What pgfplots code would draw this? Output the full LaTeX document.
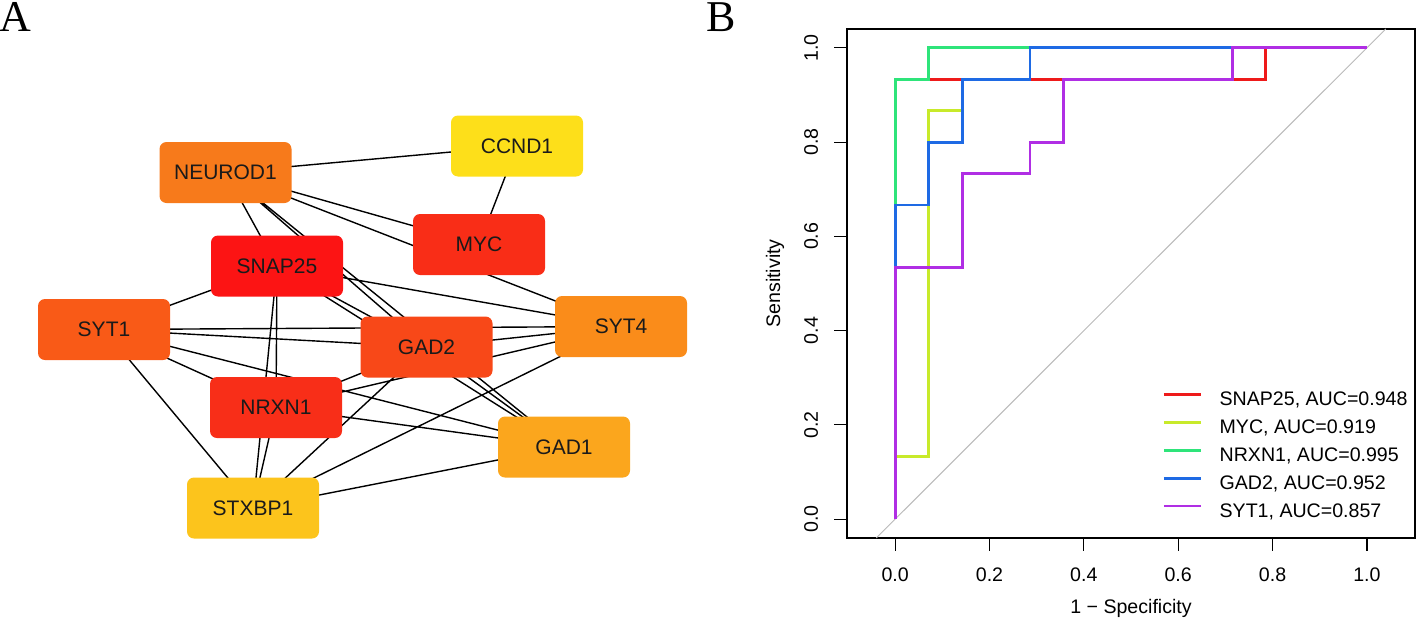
\documentclass[border=0pt]{standalone}
\usepackage{pgfplots}
\pgfplotsset{compat=1.18}
\usepackage{fontspec}
\setmainfont{Liberation Sans}
\newfontfamily\serifA{Liberation Serif}

\definecolor{cNeu}{HTML}{F77A1B}
\definecolor{cCcn}{HTML}{FDDF1A}
\definecolor{cMyc}{HTML}{F92D17}
\definecolor{cSnp}{HTML}{FC1414}
\definecolor{cSy1}{HTML}{F95A17}
\definecolor{cGd2}{HTML}{F84818}
\definecolor{cSy4}{HTML}{FA8C1A}
\definecolor{cNrx}{HTML}{F82E18}
\definecolor{cGd1}{HTML}{FBA61D}
\definecolor{cStx}{HTML}{FCC41C}
\definecolor{txt}{HTML}{1A1A1A}

\definecolor{rRed}{HTML}{EE1A1A}
\definecolor{rYel}{HTML}{C8EA2A}
\definecolor{rGrn}{HTML}{2EE47A}
\definecolor{rBlu}{HTML}{1E6AE4}
\definecolor{rPur}{HTML}{B02EE4}

\newcommand{\rfont}{\fontsize{9.8}{11.8}\selectfont}

\pgfplotsset{
  gene/.style={only marks, mark=none, nodes near coords align={center},
    every node near coord/.append style={fill=#1, rounded corners=3.5pt,
      minimum width=66pt, minimum height=30.5pt, inner sep=0pt, text=txt, anchor=center}},
}

\begin{document}
\fontsize{10.5}{12.6}\selectfont
\begin{tikzpicture}
\useasboundingbox (0,0) rectangle (708.5pt,310.5pt);
% ---------------- Panel A: network ----------------
\begin{axis}[
  at={(0pt,0pt)}, anchor=south west,
  scale only axis, width=350pt, height=310.5pt,
  xmin=0, xmax=700, ymin=0, ymax=621, y dir=reverse,
  hide axis, clip=false, unbounded coords=jump,
]
\addplot[black, line width=0.7pt] coordinates {
(225.5,172.5)(517,146) (nan,nan)
(517,146)(479,244.5) (nan,nan)
(225.5,172.5)(479,244.5) (nan,nan)
(225.5,172.5)(621,326.5) (nan,nan)
(225.5,172.5)(277,266) (nan,nan)
(225.5,172.5)(426.5,347) (nan,nan)
(225.5,172.5)(564,447) (nan,nan)
(277,266)(564,447) (nan,nan)
(277,266)(426.5,347) (nan,nan)
(277,266)(621,326.5) (nan,nan)
(277,266)(104,329.5) (nan,nan)
(277,266)(276,407.5) (nan,nan)
(277,266)(253,508) (nan,nan)
(104,329.5)(621,326.5) (nan,nan)
(104,329.5)(426.5,347) (nan,nan)
(104,329.5)(564,447) (nan,nan)
(104,329.5)(276,407.5) (nan,nan)
(104,329.5)(253,508) (nan,nan)
(276,407.5)(426.5,347) (nan,nan)
(276,407.5)(564,447) (nan,nan)
(276,407.5)(621,326.5) (nan,nan)
(276,407.5)(253,508) (nan,nan)
(426.5,347)(564,447) (nan,nan)
(426.5,347)(621,326.5) (nan,nan)
(426.5,347)(253,508) (nan,nan)
(621,326.5)(253,508) (nan,nan)
(253,508)(564,447)
};
\addplot[gene=cNeu, nodes near coords={NEUROD1}] coordinates {(225.5,172.5)};
\addplot[gene=cCcn, nodes near coords={CCND1}] coordinates {(517,146)};
\addplot[gene=cMyc, nodes near coords={MYC}] coordinates {(479,244.5)};
\addplot[gene=cSnp, nodes near coords={SNAP25}] coordinates {(277,266)};
\addplot[gene=cSy1, nodes near coords={SYT1}] coordinates {(104,329.5)};
\addplot[gene=cGd2, nodes near coords={GAD2}] coordinates {(426.5,347)};
\addplot[gene=cSy4, nodes near coords={SYT4}] coordinates {(621,326.5)};
\addplot[gene=cNrx, nodes near coords={NRXN1}] coordinates {(276,407.5)};
\addplot[gene=cGd1, nodes near coords={GAD1}] coordinates {(564,447)};
\addplot[gene=cStx, nodes near coords={STXBP1}] coordinates {(253,508)};
\node[font=\serifA\fontsize{22}{26}\selectfont, anchor=base, inner sep=0pt] at (axis cs:15,32) {A};
\node[font=\serifA\fontsize{22}{26}\selectfont, anchor=base, inner sep=0pt] at (axis cs:721,32) {B};
\end{axis}
% ---------------- Panel B: ROC ----------------
\begin{axis}[
  at={(423.5pt,41.5pt)}, anchor=south west,
  scale only axis, width=284pt, height=254.5pt,
  xmin=-0.102, xmax=1.102, ymin=-0.04, ymax=1.04,
  xtick={0,0.2,0.4,0.6,0.8,1}, ytick={0,0.2,0.4,0.6,0.8,1},
  xtick pos=left, ytick pos=left, tick align=outside,
  major tick length=6.3pt,
  every tick/.style={black, line width=0.6pt},
  axis line style={line width=0.6pt},
  /pgf/number format/fixed, /pgf/number format/fixed zerofill,
  /pgf/number format/precision=1, /pgf/number format/assume math mode=true,
  tick label style={font=\rfont},
  label style={font=\rfont},
  xticklabel shift=5pt, yticklabel shift=4.5pt,
  yticklabel style={rotate=90, anchor=south},
  xlabel={1 − Specificity}, ylabel={Sensitivity},
  xlabel style={at={(axis description cs:0.5,-0.1375)}, anchor=center},
  ylabel style={at={(axis description cs:-0.1268,0.5)}, anchor=center},
  legend cell align=left,
  legend style={at={(axis description cs:0.5546,0.2882)}, anchor=north west,
    draw=none, fill=none, inner sep=0pt, row sep=4.86pt, column sep=8.7pt,
    font=\rfont, nodes={inner sep=0pt, text height=7pt, text depth=2.1pt}},
  legend image code/.code={\draw[#1] (0pt,3.2pt) -- (18.5pt,3.2pt);},
]
\addplot[gray!55, line width=0.5pt, forget plot] coordinates {(-0.04,-0.04)(1.04,1.04)};
\addplot[rRed, line width=1.4pt] coordinates {(0,0)(0,0.9333)(0.7857,0.9333)(0.7857,1)(1,1)};
\addlegendentry{SNAP25, AUC=0.948}
\addplot[rYel, line width=1.4pt] coordinates {(0,0)(0,0.1333)(0.0714,0.1333)(0.0714,0.8667)(0.1429,0.8667)(0.1429,0.9333)(0.2857,0.9333)(0.2857,1)(1,1)};
\addlegendentry{MYC, AUC=0.919}
\addplot[rGrn, line width=1.4pt] coordinates {(0,0)(0,0.9333)(0.0714,0.9333)(0.0714,1)(1,1)};
\addlegendentry{NRXN1, AUC=0.995}
\addplot[rBlu, line width=1.4pt] coordinates {(0,0)(0,0.6667)(0.0714,0.6667)(0.0714,0.8)(0.1429,0.8)(0.1429,0.9333)(0.2857,0.9333)(0.2857,1)(1,1)};
\addlegendentry{GAD2, AUC=0.952}
\addplot[rPur, line width=1.4pt] coordinates {(0,0)(0,0.5333)(0.1429,0.5333)(0.1429,0.7333)(0.2857,0.7333)(0.2857,0.8)(0.3571,0.8)(0.3571,0.9333)(0.7143,0.9333)(0.7143,1)(1,1)};
\addlegendentry{SYT1, AUC=0.857}
\end{axis}
\end{tikzpicture}
\end{document}
